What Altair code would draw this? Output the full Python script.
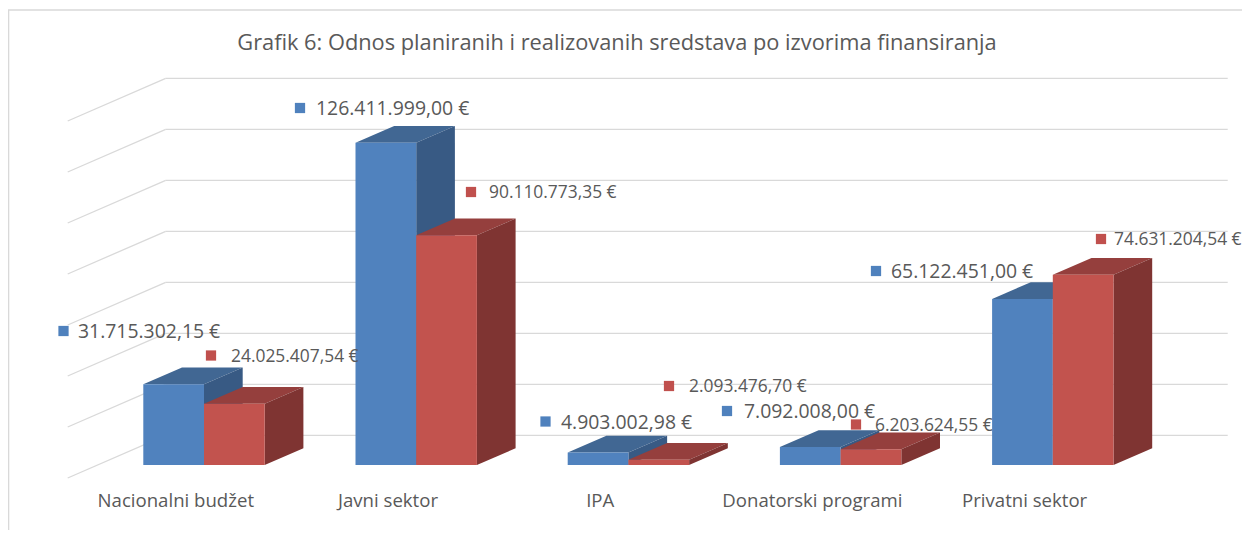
import altair as alt
import pandas as pd

# ---- values
categories = ["Nacionalni budžet", "Javni sektor", "IPA", "Donatorski programi", "Privatni sektor"]
planned = [31715302.15, 126411999.00, 4903002.98, 7092008.00, 65122451.00]
realized = [24025407.54, 90110773.35, 2093476.70, 6203624.55, 74631204.54]
planned_labels = ["31.715.302,15 €", "126.411.999,00 €", "4.903.002,98 €", "7.092.008,00 €", "65.122.451,00 €"]
realized_labels = ["24.025.407,54 €", "90.110.773,35 €", "2.093.476,70 €", "6.203.624,55 €", "74.631.204,54 €"]
grid_values = [0, 20, 40, 60, 80, 100, 120, 140]
title = "Grafik 6: Odnos planiranih  i realizovanih sredstava po izvorima finansiranja"

# ---- layout (page pixels) -> data units
SLOT, X0, BASE, PX_PER_M = 212.2, 143.3, 465.0, 2.55
def ux(px): return (px - X0) / SLOT
def uy(py): return (BASE - py) / PX_PER_M
BAR_W = 60.7 / SLOT
DX, DY = 38.7 / SLOT, 16.7 / PX_PER_M
VIEW_TOP, VIEW_BOTTOM = 60, 490
WIDTH = 1234
CANVAS_BOTTOM = 530

CAT_OFFSET = 32 / SLOT
names = "[" + ",".join(f"'{c}'" for c in categories) + "]"
x_axis = alt.Axis(
    values=[i + CAT_OFFSET for i in range(5)],
    labelExpr=f"{names}[floor(datum.value)]",
    domain=False, ticks=False, grid=False, labelPadding=1, title=None, labelLimit=400,
    labelFont="Open Sans", labelFontSize=18.6, labelColor="#595959", labelFlush=False, labelOverlap=False)

x_scale = alt.Scale(domain=[ux(8), ux(8 + WIDTH)], nice=False, zero=False)
y_scale = alt.Scale(domain=[uy(VIEW_BOTTOM), uy(VIEW_TOP)], nice=False, zero=False)
X_ENC = alt.X("x:Q", scale=x_scale, axis=x_axis)
Y_ENC = alt.Y("y:Q", scale=y_scale, axis=None)

styles = {
    "planned": dict(front="#5082BE", top="#416793", side="#385A84", offset=0, values=planned),
    "realized": dict(front="#C2534E", top="#953F3D", side="#7F3432", offset=1, values=realized),
}

def series_layers(name):
    st = styles[name]
    fronts, tops, sides = [], [], []
    for i, v in enumerate(st["values"]):
        m = v / 1e6
        L = i + st["offset"] * BAR_W
        R = L + BAR_W
        fronts.append(dict(x=L, x2=R, y=0, y2=m))
        key = f"{name}{i}"
        for x, y, y2 in [(L, m, m), (L + DX, m, m + DY), (R, m, m + DY), (R + DX, m + DY, m + DY)]:
            tops.append(dict(x=x, y=y, y2=y2, key=key))
        for x, y, y2 in [(R, 0, m), (R + DX, DY, m + DY)]:
            sides.append(dict(x=x, y=y, y2=y2, key=key))
    top = alt.Chart(pd.DataFrame(tops)).mark_area(color=st["top"], orient="vertical").encode(
        x=X_ENC, y=Y_ENC, y2="y2:Q", detail="key:N")
    side = alt.Chart(pd.DataFrame(sides)).mark_area(color=st["side"], orient="vertical").encode(
        x=X_ENC, y=Y_ENC, y2="y2:Q", detail="key:N")
    front = alt.Chart(pd.DataFrame(fronts)).mark_rect(color=st["front"]).encode(
        x=X_ENC, x2="x2:Q", y=Y_ENC, y2="y2:Q")
    return [top, side, front]

# ---- back wall grid and side wall grid
FLOOR = uy(435.3)
GRID_L, GRID_B, GRID_R = ux(67.7), ux(165.7), ux(1227.7)
SIDE_DROP = 42.7 / PX_PER_M
back = pd.DataFrame([dict(x=GRID_B, x2=GRID_R, y=FLOOR + g) for g in grid_values])
side_rows = []
for g in grid_values:
    side_rows += [dict(x=GRID_L, y=FLOOR + g - SIDE_DROP, key=g), dict(x=GRID_B, y=FLOOR + g, key=g)]
GRID_COLOR, GRID_W = "#D9D9D9", 1.3
grid_back = alt.Chart(back).mark_rule(color=GRID_COLOR, strokeWidth=GRID_W).encode(x=X_ENC, x2="x2:Q", y=Y_ENC)
grid_side = alt.Chart(pd.DataFrame(side_rows)).mark_line(color=GRID_COLOR, strokeWidth=GRID_W).encode(
    x=X_ENC, y=Y_ENC, detail="key:N")

# ---- chart frame
frame_top = alt.Chart(pd.DataFrame([dict(x=ux(8), x2=ux(8 + WIDTH), y=uy(10))])).mark_rule(
    color=GRID_COLOR, strokeWidth=1.6).encode(x=X_ENC, x2="x2:Q", y=Y_ENC)
frame_left = alt.Chart(pd.DataFrame([dict(x=ux(8.5), y=uy(10), y2=uy(CANVAS_BOTTOM))])).mark_rule(
    color=GRID_COLOR, strokeWidth=1.6).encode(x=X_ENC, y=Y_ENC, y2="y2:Q")

# ---- data labels with their square keys (page pixels of the key centre, text start)
planned_pos = [(63.5, 331, 78), (300, 108, 316), (545.5, 421.5, 561), (727, 411, 744), (876, 271, 891)]
realized_pos = [(211, 355.5, 231), (471, 192, 489), (669, 386, 689), (856, 424.5, 875), (1101, 239, 1114)]

def label_layers(pos, labels, color, size):
    keys = pd.DataFrame([dict(x=ux(p[0]), y=uy(p[1])) for p in pos])
    txt = pd.DataFrame([dict(x=ux(p[2]), y=uy(p[1] + 1), t=l) for p, l in zip(pos, labels)])
    k = alt.Chart(keys).mark_square(color=color, size=105, opacity=1).encode(x=X_ENC, y=Y_ENC)
    t = alt.Chart(txt).mark_text(align="left", baseline="middle", font="Open Sans", fontSize=size, color="#595959").encode(
        x=X_ENC, y=Y_ENC, text="t:N")
    return [k, t]

chart = alt.layer(
    frame_top, frame_left, grid_back, grid_side,
    *series_layers("planned"), *series_layers("realized"),
    *label_layers(planned_pos, planned_labels, "#4F81BD", 19.4),
    *label_layers(realized_pos, realized_labels, "#C0504D", 17.4),
).properties(
    width=WIDTH, height=VIEW_BOTTOM - VIEW_TOP,
    title=alt.TitleParams(title, font="Open Sans", fontSize=21.8, fontWeight="normal", color="#595959",
                          anchor="middle", frame="group", dx=-8, offset=-46),
    autosize=alt.AutoSizeParams(type="none"),
    padding={"left": 0, "right": 0, "top": VIEW_TOP - 8, "bottom": CANVAS_BOTTOM - VIEW_BOTTOM},
    background="white",
).configure_view(stroke=None)

chart.save("out.html", embed_options={"renderer": "svg", "actions": False})
